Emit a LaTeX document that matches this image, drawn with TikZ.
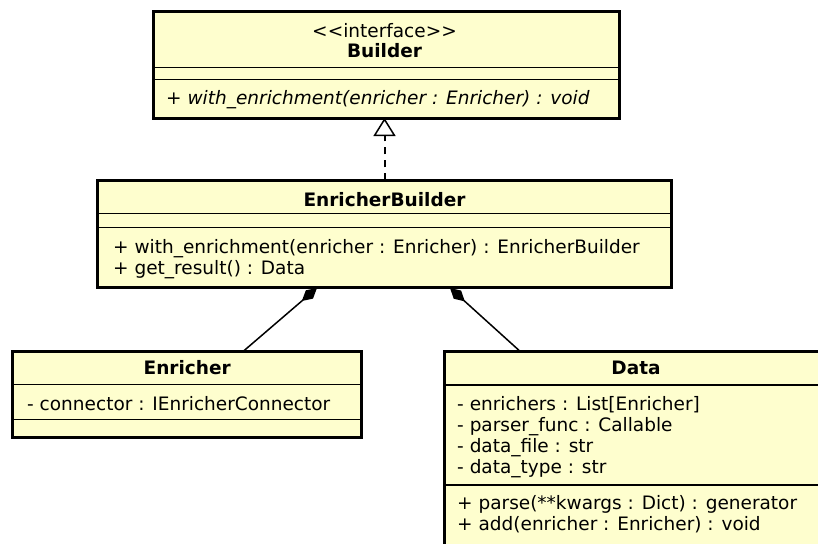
\documentclass[tikz,border=0pt]{standalone}
\usepackage{fontspec}
\setmainfont{DejaVu Sans}
\usetikzlibrary{arrows.meta, calc}
\definecolor{classfill}{RGB}{254,254,206}

\begin{document}
\begin{tikzpicture}[x=1pt, y=-1pt,
        font=\fontsize{18.5}{21}\selectfont,
        umlclass/.style={draw, fill=classfill, line width=3pt, inner sep=0pt, outer sep=0pt},
        member/.style={anchor=base west, inner sep=0pt},
        classname/.style={anchor=base, inner sep=0pt, font=\fontsize{18.5}{21}\selectfont\bfseries},
        divider/.style={line width=1.2pt},
        realizes/.style={line width=2pt, dash pattern=on 7pt off 6pt,
            -{Triangle[open, length=18pt, width=22pt, line width=1.5pt]}},
        composes/.style={line width=1.5pt, {Diamond[length=20pt, width=11pt]}-}]
    \useasboundingbox (0,0) rectangle (818,543);
    \clip (0,0) rectangle (818,543);

    % class boxes
    \node[umlclass, minimum width=466pt, minimum height=106pt] (builder) at (386,65) {};
    \node[umlclass, minimum width=574pt, minimum height=107.5pt] (enrBuilder) at (384.5,234.2) {};
    \node[umlclass, minimum width=349pt, minimum height=85.7pt] (enricher) at (187.2,394.2) {};
    \node[umlclass, minimum width=384pt, minimum height=208.7pt] (data) at (636,455.6) {};

    % compartment lines
    \foreach \cls/\yy in {builder/67.5, builder/79.2, enrBuilder/213.3, enrBuilder/227.5,
                          enricher/384.2, enricher/419.2, data/385, data/485}
        \draw[divider] (\cls.west |- 0,\yy) -- (\cls.east |- 0,\yy);

    % Builder
    \node[anchor=base, inner sep=0pt] (builderStereo) at (384.5,37.5) {<\kern0pt<interface>\kern0pt>};
    \node[classname] (builderName) at (384.5,57.5) {Builder};
    \node[member, font=\fontsize{18.5}{21}\selectfont\itshape] (builderOp) at (166,104.5)
        {+ with\_enrichment(enricher : Enricher) : void};

    % EnricherBuilder
    \node[classname] (enrBuilderName) at (384.5,206.5) {EnricherBuilder};
    \node[member] (enrBuilderOp1) at (113,253.5) {+ with\_enrichment(enricher : Enricher) : EnricherBuilder};
    \node[member] (enrBuilderOp2) at (113,274.5) {+ get\_result() : Data};

    % Enricher
    \node[classname] (enricherName) at (187.2,374.5) {Enricher};
    \node[member] (enricherAttr) at (27,410.5) {- connector : IEnricherConnector};

    % Data
    \node[classname] (dataName) at (636,374.5) {Data};
    \foreach \attr [count=\i from 0] in {- enrichers : List[Enricher], - parser\_func : Callable,
                                         - data\_file : str, - data\_type : str}
        \node[member] (dataAttr\i) at (457, 410.5+21*\i) {\attr};
    \node[member] (dataOp1) at (457,509.5) {+ parse(**kwargs : Dict) : generator};
    \node[member] (dataOp2) at (457,530.5) {+ add(enricher : Enricher) : void};

    % relations
    \draw[realizes] (enrBuilder.north) -- (enrBuilder.north |- builder.south);
    \draw[composes] ($(enrBuilder.south)+(-67.5,0)$) -- ($(enricher.north)+(56,0)$);
    \draw[composes] ($(enrBuilder.south)+(65.5,0)$) -- ($(data.north)+(-116,0)$);
\end{tikzpicture}
\end{document}
